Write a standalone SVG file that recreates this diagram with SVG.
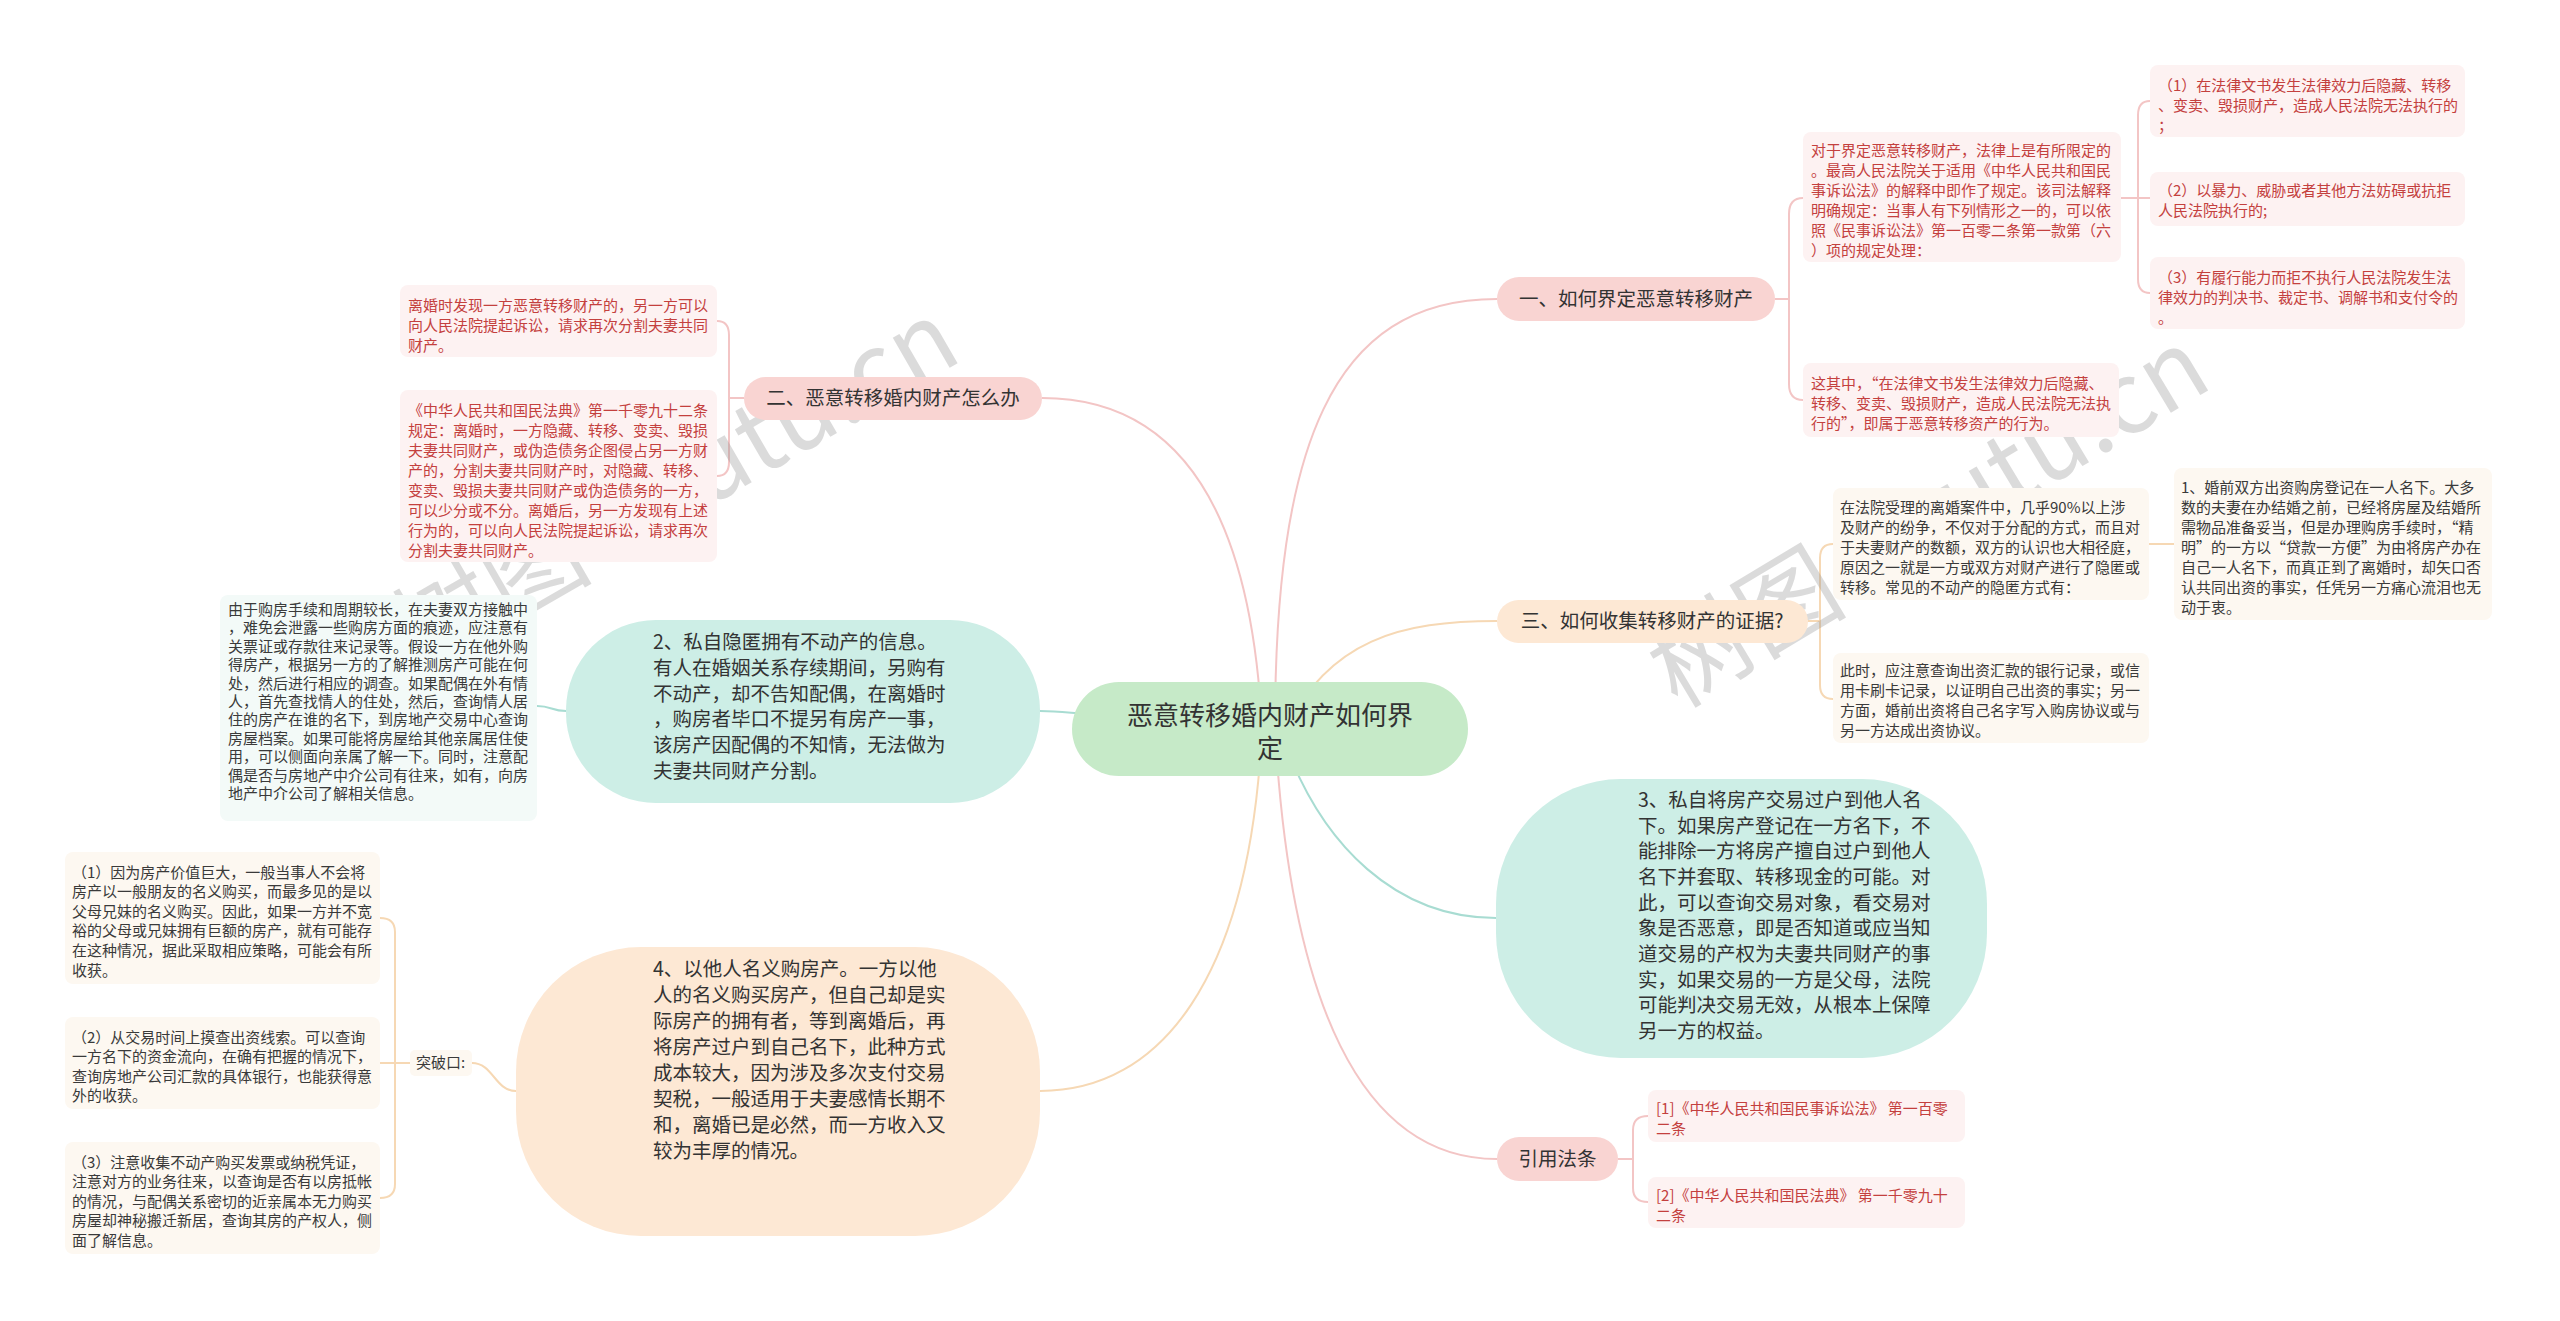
<svg xmlns="http://www.w3.org/2000/svg" width="2560" height="1321" viewBox="0 0 2560 1321">
<style>
text { font-family: "Noto Sans CJK SC", "Noto Sans", sans-serif; }
.root { font-size: 26px; fill: #333; text-anchor: middle; }
.main { font-size: 19.5px; fill: #333; text-anchor: middle; }
.big { font-size: 19.5px; fill: #333; }
.sm { font-size: 15px; }
.red { fill: #c4403e; }
.dark { fill: #3a3a3a; }
.bpink { fill: #fdf2f2; }
.bteal { fill: #f3faf8; }
.borange { fill: #fdf8f1; }
.npink { fill: #f9d4d2; }
.norange { fill: #fde8d4; }
.nteal { fill: #cdeee6; }
.cpink { fill: none; stroke: #f3c5c5; stroke-width: 2; }
.cteal { fill: none; stroke: #a8dcd2; stroke-width: 2; }
.corange { fill: none; stroke: #f6d8b4; stroke-width: 2; }
.wm { font-size: 100px; fill: #8a8a8a; opacity: 0.3; }
</style>
<rect x="0" y="0" width="2560" height="1321" fill="#ffffff"/>

<g id="connectors">
  <path class="cpink" d="M1275,729 C1275,450 1330,299 1497,299"/>
  <path class="corange" d="M1285,729 C1330,640 1400,621 1497,621"/>
  <path class="cteal" d="M1280,729 C1320,850 1400,918 1496,918"/>
  <path class="cpink" d="M1275,729 C1290,1000 1360,1159 1497,1159"/>
  <path class="cpink" d="M1262,729 C1250,480 1160,398 1042,398"/>
  <path class="cteal" d="M1270,729 C1150,729 1100,711 1040,711"/>
  <path class="corange" d="M1262,729 C1250,980 1160,1091 1040,1091"/>
  <path class="cpink" d="M1775,299 H1789 V214 Q1789,198 1803,198 M1789,299 V384 Q1789,400 1803,400"/>
  <path class="cpink" d="M2121,198 H2150 M2138,198 V115 Q2138,101 2150,101 M2138,198 V279 Q2138,293 2150,293"/>
  <path class="cpink" d="M744,398 H729 V335 Q729,321 717,321 M729,398 V462 Q729,476 717,476"/>
  <path class="corange" d="M1808,621 H1820 V558 Q1820,544 1833,544 M1820,621 V685 Q1820,699 1833,699"/>
  <path class="corange" d="M2149,544 H2174"/>
  <path class="cpink" d="M1618,1159 H1633 V1130 Q1633,1116 1648,1116 M1633,1159 V1188 Q1633,1202 1648,1202"/>
  <path class="cteal" d="M566,711 C551,711 552,706 537,706"/>
  <path class="corange" d="M516,1091 C495,1091 493,1063 472,1063"/>
  <path class="corange" d="M410,1063 H380 M395,1063 V932 Q395,918 380,918 M395,1063 V1184 Q395,1198 380,1198"/>
</g>

<g id="watermarks">
  <text class="wm" x="678" y="520" text-anchor="middle" transform="rotate(-30 678 490)">树图 shutu.cn</text>
  <text class="wm" x="1931" y="552" text-anchor="middle" transform="rotate(-31 1931 522)">树图 shutu.cn</text>
</g>

<g id="root">
  <rect x="1072" y="682" width="396" height="94" rx="47" fill="#c6eac8"/>
  <text class="root"><tspan x="1270" y="725">恶意转移婚内财产如何界</tspan><tspan x="1270" y="758">定</tspan></text>
</g>

<g id="n1">
  <rect class="npink" x="1497" y="277" width="278" height="44" rx="22"/>
  <text class="main" x="1636" y="306">一、如何界定恶意转移财产</text>
</g>
<g id="n1a">
  <rect class="bpink" x="1803" y="132" width="318" height="130" rx="8"/>
  <text class="sm red"><tspan x="1811" y="156">对于界定恶意转移财产，法律上是有所限定的</tspan><tspan x="1811" y="176">。最高人民法院关于适用《中华人民共和国民</tspan><tspan x="1811" y="196">事诉讼法》的解释中即作了规定。该司法解释</tspan><tspan x="1811" y="216">明确规定：当事人有下列情形之一的，可以依</tspan><tspan x="1811" y="236">照《民事诉讼法》第一百零二条第一款第（六</tspan><tspan x="1811" y="256">）项的规定处理：</tspan></text>
</g>
<g id="n1a1">
  <rect class="bpink" x="2150" y="65" width="315" height="72" rx="8"/>
  <text class="sm red"><tspan x="2158" y="91">（1）在法律文书发生法律效力后隐藏、转移</tspan><tspan x="2158" y="111">、变卖、毁损财产，造成人民法院无法执行的</tspan><tspan x="2158" y="131">；</tspan></text>
</g>
<g id="n1a2">
  <rect class="bpink" x="2150" y="172" width="315" height="54" rx="8"/>
  <text class="sm red"><tspan x="2158" y="196">（2）以暴力、威胁或者其他方法妨碍或抗拒</tspan><tspan x="2158" y="216">人民法院执行的;</tspan></text>
</g>
<g id="n1a3">
  <rect class="bpink" x="2150" y="257" width="315" height="72" rx="8"/>
  <text class="sm red"><tspan x="2158" y="283">（3）有履行能力而拒不执行人民法院发生法</tspan><tspan x="2158" y="303">律效力的判决书、裁定书、调解书和支付令的</tspan><tspan x="2158" y="323">。</tspan></text>
</g>
<g id="n1b">
  <rect class="bpink" x="1803" y="363" width="316" height="74" rx="8"/>
  <text class="sm red"><tspan x="1811" y="389">这其中，“在法律文书发生法律效力后隐藏、</tspan><tspan x="1811" y="409">转移、变卖、毁损财产，造成人民法院无法执</tspan><tspan x="1811" y="429">行的”，即属于恶意转移资产的行为。</tspan></text>
</g>

<g id="n3">
  <rect class="norange" x="1497" y="600" width="311" height="43" rx="21.5"/>
  <text class="main" x="1652" y="628">三、如何收集转移财产的证据?</text>
</g>
<g id="n3a">
  <rect class="borange" x="1833" y="488" width="316" height="112" rx="8"/>
  <text class="sm dark"><tspan x="1840" y="513">在法院受理的离婚案件中，几乎90%以上涉</tspan><tspan x="1840" y="533">及财产的纷争，不仅对于分配的方式，而且对</tspan><tspan x="1840" y="553">于夫妻财产的数额，双方的认识也大相径庭，</tspan><tspan x="1840" y="573">原因之一就是一方或双方对财产进行了隐匿或</tspan><tspan x="1840" y="593">转移。常见的不动产的隐匿方式有：</tspan></text>
</g>
<g id="n3a1">
  <rect class="borange" x="2174" y="468" width="318" height="152" rx="8"/>
  <text class="sm dark"><tspan x="2181" y="493">1、婚前双方出资购房登记在一人名下。大多</tspan><tspan x="2181" y="513">数的夫妻在办结婚之前，已经将房屋及结婚所</tspan><tspan x="2181" y="533">需物品准备妥当，但是办理购房手续时，“精</tspan><tspan x="2181" y="553">明”的一方以“贷款一方便”为由将房产办在</tspan><tspan x="2181" y="573">自己一人名下，而真正到了离婚时，却矢口否</tspan><tspan x="2181" y="593">认共同出资的事实，任凭另一方痛心流泪也无</tspan><tspan x="2181" y="613">动于衷。</tspan></text>
</g>
<g id="n3b">
  <rect class="borange" x="1833" y="653" width="316" height="90" rx="8"/>
  <text class="sm dark"><tspan x="1840" y="676">此时，应注意查询出资汇款的银行记录，或信</tspan><tspan x="1840" y="696">用卡刷卡记录，以证明自己出资的事实；另一</tspan><tspan x="1840" y="716">方面，婚前出资将自己名字写入购房协议或与</tspan><tspan x="1840" y="736">另一方达成出资协议。</tspan></text>
</g>

<g id="n2">
  <rect class="npink" x="744" y="377" width="298" height="43" rx="21.5"/>
  <text class="main" x="893" y="405">二、恶意转移婚内财产怎么办</text>
</g>
<g id="n2a">
  <rect class="bpink" x="400" y="285" width="317" height="72" rx="8"/>
  <text class="sm red"><tspan x="408" y="311">离婚时发现一方恶意转移财产的，另一方可以</tspan><tspan x="408" y="331">向人民法院提起诉讼，请求再次分割夫妻共同</tspan><tspan x="408" y="351">财产。</tspan></text>
</g>
<g id="n2b">
  <rect class="bpink" x="400" y="390" width="317" height="172" rx="8"/>
  <text class="sm red"><tspan x="408" y="416">《中华人民共和国民法典》第一千零九十二条</tspan><tspan x="408" y="436">规定：离婚时，一方隐藏、转移、变卖、毁损</tspan><tspan x="408" y="456">夫妻共同财产，或伪造债务企图侵占另一方财</tspan><tspan x="408" y="476">产的，分割夫妻共同财产时，对隐藏、转移、</tspan><tspan x="408" y="496">变卖、毁损夫妻共同财产或伪造债务的一方，</tspan><tspan x="408" y="516">可以少分或不分。离婚后，另一方发现有上述</tspan><tspan x="408" y="536">行为的，可以向人民法院提起诉讼，请求再次</tspan><tspan x="408" y="556">分割夫妻共同财产。</tspan></text>
</g>

<g id="p2">
  <rect class="nteal" x="566" y="620" width="474" height="183" rx="90"/>
  <text class="big"><tspan x="653" y="649">2、私自隐匿拥有不动产的信息。</tspan><tspan x="653" y="675">有人在婚姻关系存续期间，另购有</tspan><tspan x="653" y="701">不动产，却不告知配偶，在离婚时</tspan><tspan x="653" y="726">，购房者毕口不提另有房产一事，</tspan><tspan x="653" y="752">该房产因配偶的不知情，无法做为</tspan><tspan x="653" y="778">夫妻共同财产分割。</tspan></text>
</g>
<g id="p2a">
  <rect class="bteal" x="220" y="595" width="317" height="226" rx="8"/>
  <text class="sm dark"><tspan x="228" y="615">由于购房手续和周期较长，在夫妻双方接触中</tspan><tspan x="228" y="633.4">，难免会泄露一些购房方面的痕迹，应注意有</tspan><tspan x="228" y="651.8">关票证或存款往来记录等。假设一方在他外购</tspan><tspan x="228" y="670.2">得房产，根据另一方的了解推测房产可能在何</tspan><tspan x="228" y="688.6">处，然后进行相应的调查。如果配偶在外有情</tspan><tspan x="228" y="707">人，首先查找情人的住处，然后，查询情人居</tspan><tspan x="228" y="725.4">住的房产在谁的名下，到房地产交易中心查询</tspan><tspan x="228" y="743.8">房屋档案。如果可能将房屋给其他亲属居住使</tspan><tspan x="228" y="762.2">用，可以侧面向亲属了解一下。同时，注意配</tspan><tspan x="228" y="780.6">偶是否与房地产中介公司有往来，如有，向房</tspan><tspan x="228" y="799">地产中介公司了解相关信息。</tspan></text>
</g>

<g id="p3">
  <rect class="nteal" x="1496" y="779" width="491" height="279" rx="125"/>
  <text class="big"><tspan x="1638" y="807">3、私自将房产交易过户到他人名</tspan><tspan x="1638" y="833">下。如果房产登记在一方名下，不</tspan><tspan x="1638" y="858">能排除一方将房产擅自过户到他人</tspan><tspan x="1638" y="884">名下并套取、转移现金的可能。对</tspan><tspan x="1638" y="910">此，可以查询交易对象，看交易对</tspan><tspan x="1638" y="935">象是否恶意，即是否知道或应当知</tspan><tspan x="1638" y="961">道交易的产权为夫妻共同财产的事</tspan><tspan x="1638" y="987">实，如果交易的一方是父母，法院</tspan><tspan x="1638" y="1012">可能判决交易无效，从根本上保障</tspan><tspan x="1638" y="1038">另一方的权益。</tspan></text>
</g>

<g id="p4">
  <rect class="norange" x="516" y="947" width="524" height="289" rx="125"/>
  <text class="big"><tspan x="653" y="976">4、以他人名义购房产。一方以他</tspan><tspan x="653" y="1002">人的名义购买房产，但自己却是实</tspan><tspan x="653" y="1028">际房产的拥有者，等到离婚后，再</tspan><tspan x="653" y="1054">将房产过户到自己名下，此种方式</tspan><tspan x="653" y="1080">成本较大，因为涉及多次支付交易</tspan><tspan x="653" y="1106">契税，一般适用于夫妻感情长期不</tspan><tspan x="653" y="1132">和，离婚已是必然，而一方收入又</tspan><tspan x="653" y="1158">较为丰厚的情况。</tspan></text>
</g>
<g id="p4a">
  <rect class="borange" x="410" y="1050" width="62" height="26" rx="5"/>
  <text class="sm dark" x="416" y="1068">突破口:</text>
</g>
<g id="p4a1">
  <rect class="borange" x="65" y="852" width="315" height="132" rx="8"/>
  <text class="sm dark"><tspan x="72" y="877.5">（1）因为房产价值巨大，一般当事人不会将</tspan><tspan x="72" y="897.1">房产以一般朋友的名义购买，而最多见的是以</tspan><tspan x="72" y="916.7">父母兄妹的名义购买。因此，如果一方并不宽</tspan><tspan x="72" y="936.3">裕的父母或兄妹拥有巨额的房产，就有可能存</tspan><tspan x="72" y="955.9">在这种情况，据此采取相应策略，可能会有所</tspan><tspan x="72" y="975.5">收获。</tspan></text>
</g>
<g id="p4a2">
  <rect class="borange" x="65" y="1017" width="315" height="92" rx="8"/>
  <text class="sm dark"><tspan x="72" y="1042.5">（2）从交易时间上摸查出资线索。可以查询</tspan><tspan x="72" y="1062.1">一方名下的资金流向，在确有把握的情况下，</tspan><tspan x="72" y="1081.7">查询房地产公司汇款的具体银行，也能获得意</tspan><tspan x="72" y="1101.3">外的收获。</tspan></text>
</g>
<g id="p4a3">
  <rect class="borange" x="65" y="1142" width="315" height="112" rx="8"/>
  <text class="sm dark"><tspan x="72" y="1167.5">（3）注意收集不动产购买发票或纳税凭证，</tspan><tspan x="72" y="1187.1">注意对方的业务往来，以查询是否有以房抵帐</tspan><tspan x="72" y="1206.7">的情况，与配偶关系密切的近亲属本无力购买</tspan><tspan x="72" y="1226.3">房屋却神秘搬迁新居，查询其房的产权人，侧</tspan><tspan x="72" y="1245.9">面了解信息。</tspan></text>
</g>

<g id="refs">
  <rect class="npink" x="1497" y="1137" width="121" height="44" rx="22"/>
  <text class="main" x="1557.5" y="1166">引用法条</text>
</g>
<g id="ref1">
  <rect class="bpink" x="1648" y="1090" width="317" height="52" rx="8"/>
  <text class="sm red"><tspan x="1656" y="1113.5">[1]《中华人民共和国民事诉讼法》 第一百零</tspan><tspan x="1656" y="1133.5">二条</tspan></text>
</g>
<g id="ref2">
  <rect class="bpink" x="1648" y="1177" width="317" height="51" rx="8"/>
  <text class="sm red"><tspan x="1656" y="1200.5">[2]《中华人民共和国民法典》 第一千零九十</tspan><tspan x="1656" y="1220.5">二条</tspan></text>
</g>
</svg>
